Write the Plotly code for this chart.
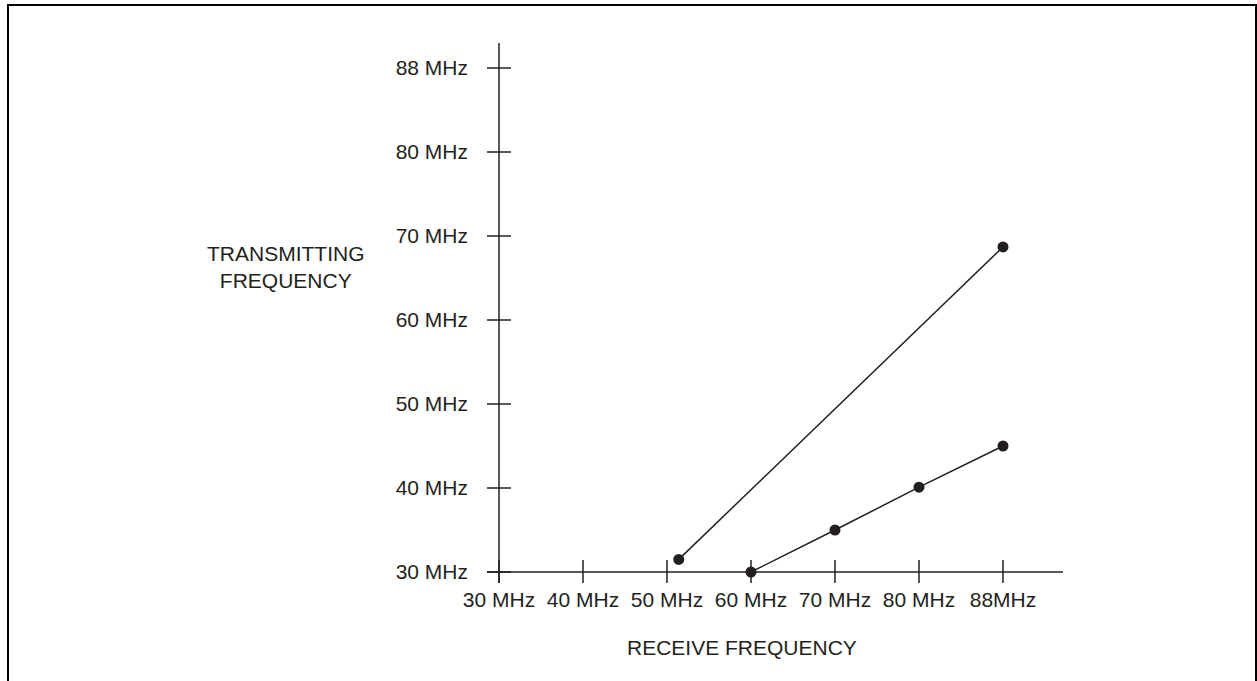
import plotly.graph_objects as go

# Axis tick positions (uniformly spaced scale) and their labels
tick_pos = [30, 40, 50, 60, 70, 80, 90]
x_tick_labels = ["30 MHz", "40 MHz", "50 MHz", "60 MHz", "70 MHz", "80 MHz", "88MHz"]
y_tick_labels = ["30 MHz", "40 MHz", "50 MHz", "60 MHz", "70 MHz", "80 MHz", "88 MHz"]

# Series values, on the chart's scale
line1_receive = [51.4, 90]
line1_transmit = [31.5, 68.7]
line2_receive = [60, 70, 80, 90]
line2_transmit = [30, 35, 40.1, 45]

INK = "#231f20"
FONT = "Liberation Sans, Arial, sans-serif"

fig = go.Figure()
for xs, ys in [(line1_receive, line1_transmit), (line2_receive, line2_transmit)]:
    fig.add_trace(go.Scatter(
        x=xs, y=ys, mode="lines+markers",
        line=dict(color=INK, width=1.5),
        marker=dict(color=INK, size=11),
        showlegend=False, hoverinfo="skip",
    ))

shapes = []
# axis lines
shapes.append(dict(type="line", xref="x domain", yref="y", x0=0, x1=1, y0=30, y1=30,
                   line=dict(color=INK, width=1.5)))
shapes.append(dict(type="line", xref="x", yref="y domain", x0=30, x1=30, y0=0, y1=1,
                   line=dict(color=INK, width=1.5)))
# crossing ticks
for v in tick_pos:
    shapes.append(dict(type="line", xref="x", yref="y", ysizemode="pixel", yanchor=30,
                       x0=v, x1=v, y0=-12, y1=12, line=dict(color=INK, width=1.5)))
    shapes.append(dict(type="line", xref="x", yref="y", xsizemode="pixel", xanchor=30,
                       y0=v, y1=v, x0=-12, x1=12, line=dict(color=INK, width=1.5)))
# outer border
shapes.append(dict(type="rect", xref="paper", yref="paper",
                   x0=(8 - 487) / 576, x1=(1256 - 487) / 576,
                   y0=-0.3, y1=(583 - 5) / 540,
                   line=dict(color="black", width=2), fillcolor="rgba(0,0,0,0)"))

fig.update_layout(
    width=1257, height=681,
    margin=dict(l=487, r=194, t=43, b=98, pad=0),
    paper_bgcolor="white", plot_bgcolor="white",
    font=dict(family=FONT, size=21, color=INK),
    shapes=shapes,
    xaxis=dict(range=[30 - 12 / 8.4, 30 + 564 / 8.4], tickvals=tick_pos, ticktext=x_tick_labels,
               showgrid=False, zeroline=False, showline=False, ticks="",
               tickfont=dict(size=21, color=INK, family=FONT), ticklabelstandoff=2),
    yaxis=dict(range=[30 - 11 / 8.4, 30 + 529 / 8.4], tickvals=tick_pos, ticktext=y_tick_labels,
               showgrid=False, zeroline=False, showline=False, ticks="",
               tickfont=dict(size=21, color=INK, family=FONT), ticklabelstandoff=18),
    annotations=[
        dict(text="TRANSMITTING<br>FREQUENCY", xref="paper", yref="paper",
             x=(286 - 487) / 576, y=(583 - 267) / 540, xanchor="center", yanchor="middle",
             showarrow=False, align="center", font=dict(size=21, color=INK, family=FONT)),
        dict(text="RECEIVE FREQUENCY", xref="paper", yref="paper",
             x=(742 - 487) / 576, y=(583 - 647) / 540, xanchor="center", yanchor="middle",
             showarrow=False, font=dict(size=21, color=INK, family=FONT)),
    ],
)

fig.write_html(
    "out.html",
    config={"displayModeBar": False},
    post_script="document.body.style.margin='0';document.body.style.overflow='hidden';",
)
